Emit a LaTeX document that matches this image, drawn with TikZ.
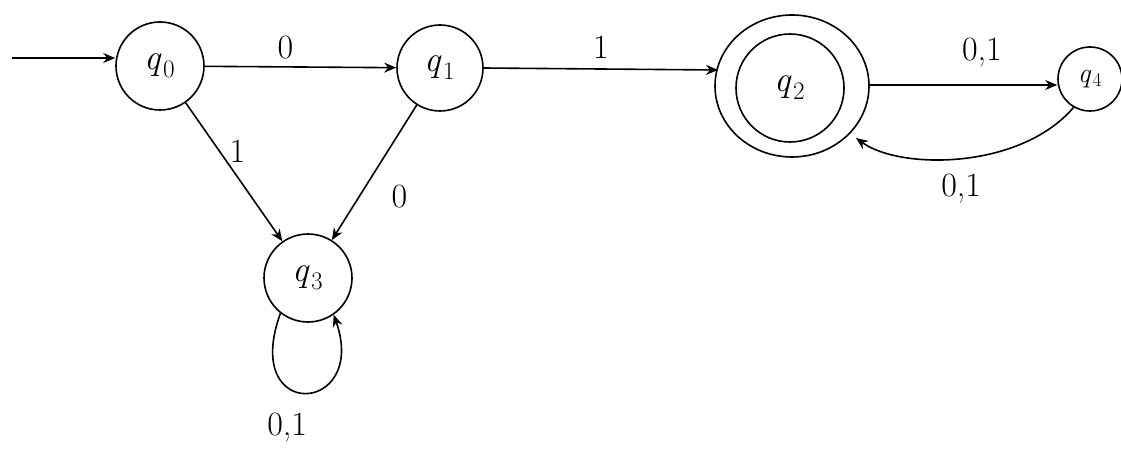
\documentclass[tikz,border=0pt]{standalone}
\usepackage{fontspec}
\usetikzlibrary{arrows.meta}
\newcommand{\qst}[1]{\textit{q}\kern1pt\textsubscript{#1}}
\begin{document}
\begin{tikzpicture}[x=1pt,y=-1pt,
  state/.style={draw,circle,line width=1.6pt,inner sep=0pt,font=\fontsize{36}{40}\selectfont},
  edge/.style={line width=1.6pt,-{Stealth[length=12pt,width=10pt]}},
  lab/.style={font=\fontsize{34}{38}\selectfont}]
\useasboundingbox (0,0) rectangle (1121,457);
\node[state,minimum size=88pt] (q0) at (160,66) {\qst{0}};
\node[state,minimum size=86pt] (q1) at (440,68) {\qst{1}};
\node[state,minimum size=108pt] (q2) at (790,88) {\qst{2}};
\draw[line width=1.6pt] (792,86) ellipse (77pt and 71pt);
\node[state,minimum size=64pt,font=\fontsize{28}{32}\selectfont] (q4) at (1090,79) {\qst{4}};
\node[state,minimum size=88pt] (q3) at (308,278) {\qst{3}};
\coordinate (start) at (12,58);
\coordinate (q2in) at (718,70);
\coordinate (q2out) at (869,85);
\coordinate (q2back) at (856,138);
\draw[edge] (start) -- (q0.west |- start);
\draw[edge] (q0) -- node[lab,above=4pt,xshift=-15pt] {0} (q1);
\draw[edge] (q1.east) -- node[lab,above=6pt,pos=0.5] {1} (q2in);
\draw[edge] (q2out) -- node[lab,above=14pt,pos=0.6] {0,1} (q2out -| q4.west);
\draw[edge] (q4.240) .. controls (1020,170) and (900,170) .. (q2back) node[lab,pos=0.5,below=12pt] {0,1};
\draw[edge] (q0) -- node[lab,right,pos=0.35,xshift=6pt] {1} (q3);
\draw[edge] (q1) -- node[lab,right,xshift=26pt,yshift=-4pt,pos=0.65] {0} (q3);
\draw[edge] (q3.232) .. controls +(-40,110) and +(35,100) .. (q3.305) node[lab,pos=0.5,below=16pt,xshift=-18pt] {0,1};
\end{tikzpicture}
\end{document}
